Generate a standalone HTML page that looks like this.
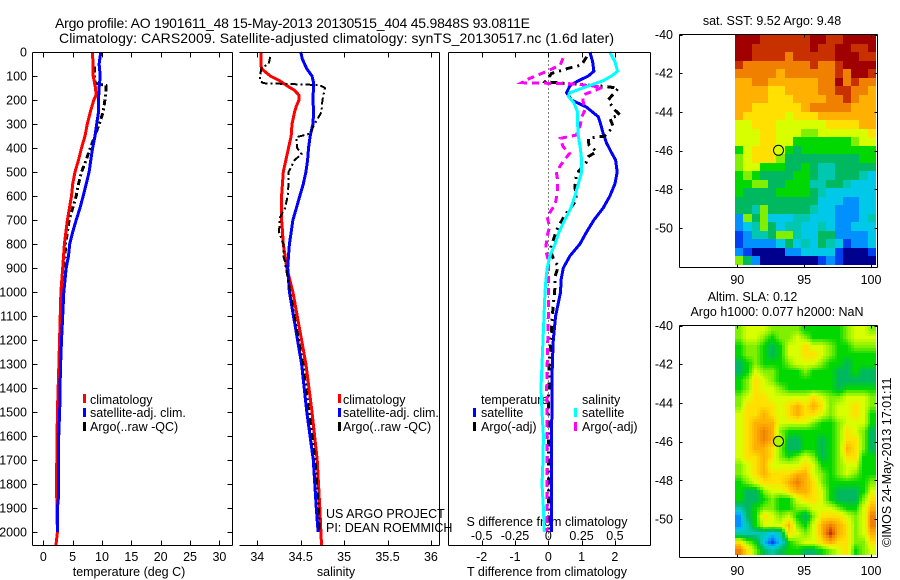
<!DOCTYPE html>
<html>
<head>
<meta charset="utf-8">
<style>
html,body{margin:0;padding:0;background:#fff;width:900px;height:580px;overflow:hidden}
svg{display:block}
text{font-family:"Liberation Sans",sans-serif;font-size:12.5px;fill:#000}
.t{font-size:14px}
.line{fill:none;shape-rendering:crispEdges}
</style>
</head>
<body>
<svg id="fig" width="900" height="580" viewBox="0 0 900 580" xmlns="http://www.w3.org/2000/svg">
<text class="t" x="55" y="28" textLength="475" lengthAdjust="spacing">Argo profile: AO 1901611_48 15-May-2013 20130515_404 45.9848S 93.0811E</text>
<text class="t" x="59" y="43" textLength="555" lengthAdjust="spacing">Climatology: CARS2009. Satellite-adjusted climatology: synTS_20130517.nc (1.6d later)</text>
<text x="129" y="576" text-anchor="middle">temperature (deg C)</text>
<text x="336" y="576" text-anchor="middle">salinity</text>
<text x="547" y="576" text-anchor="middle">T difference from climatology</text>
<text x="547" y="526" text-anchor="middle">S difference from climatology</text>
<text x="772" y="25" text-anchor="middle">sat. SST: 9.52 Argo: 9.48</text>
<text x="752.5" y="301" text-anchor="middle">Altim. SLA: 0.12</text>
<text x="777" y="316" text-anchor="middle">Argo h1000: 0.077 h2000: NaN</text>
<text x="326" y="518">US ARGO PROJECT</text>
<text x="326" y="532">PI: DEAN ROEMMICH</text>
<text transform="translate(891,547) rotate(-90)">©IMOS 24-May-2013 17:01:11</text>

<g id="legends">
<rect x="83" y="394" width="3" height="9" fill="#f00"/>
<text x="90" y="404">climatology</text>
<rect x="83" y="408" width="3" height="9" fill="#00f"/>
<text x="90" y="417">satellite-adj. clim.</text>
<rect x="83" y="422" width="3" height="9" fill="#000"/>
<text x="90" y="431">Argo(..raw -QC)</text>
<rect x="338" y="394" width="3" height="9" fill="#f00"/>
<text x="343" y="404">climatology</text>
<rect x="338" y="408" width="3" height="9" fill="#00f"/>
<text x="343" y="417">satellite-adj. clim.</text>
<rect x="338" y="422" width="3" height="9" fill="#000"/>
<text x="343" y="431">Argo(..raw -QC)</text>
<text x="481" y="404">temperature</text>
<rect x="473" y="408" width="3" height="9" fill="#00f"/>
<text x="481" y="417">satellite</text>
<rect x="473" y="422" width="3" height="9" fill="#000"/>
<text x="481" y="431">Argo(-adj)</text>
<text x="582" y="404">salinity</text>
<rect x="574" y="408" width="3" height="9" fill="#0ff"/>
<text x="582" y="417">satellite</text>
<rect x="574" y="422" width="3" height="9" fill="#f0f"/>
<text x="582" y="431">Argo(-adj)</text>
</g>
</svg>
<script>
// ---- tick data ----
const depthTicks = [0,100,200,300,400,500,600,700,800,900,1000,1100,1200,1300,1400,1500,1600,1700,1800,1900,2000];
const tempTicks = [0,5,10,15,20,25,30];
const salTicks = [34,34.5,35,35.5,36];
const salTickLabels = ['34','34.5','35','35.5','36'];
const dTTicks = [-2,-1,0,1,2];
const dSTicks = [-0.5,-0.25,0,0.25,0.5];
const dSTickLabels = ['-0.5','-0.25','0','0.25','0.5'];
const latTicks = [-40,-42,-44,-46,-48,-50];
const lonTicks = [90,95,100];

// ---- temperature panel ----
const tClimDepth = [0,100,150,180,200,250,300,350,400,450,500,550,600,700,800,900,1000,1300,1500,1800,2000,2054];
const tClimValue = [8.4,8.5,8.9,9.0,8.6,8.0,7.5,7.1,6.5,6.0,5.4,5.0,4.8,4.1,3.6,3.3,3.0,2.65,2.4,2.25,2.4,2.16];
const tSatDepth = [0,50,100,150,200,250,300,350,400,450,500,550,600,650,700,750,800,850,900,1000,1100,1200,1300,1400,1500,1600,1850,1900,2000];
const tSatValue = [9.8,9.5,9.7,9.5,9.4,9.4,9.1,8.8,8.4,8.1,7.8,7.3,6.8,6.25,5.6,5.0,4.5,4.3,3.9,3.5,3.3,3.1,2.95,2.85,2.8,2.6,2.6,2.4,2.4];
const tArgoDepth = [60,100,130,140,150,200,250,300,350,400,450,500,550,600,650,700,750,800,850,900,1000,1300,1550,1850];
const tArgoValue = [8.7,8.7,8.8,10.7,10.7,10.5,10.2,9.5,8.8,8.0,7.3,6.5,6.0,5.6,5.0,4.4,4.1,3.8,3.7,3.4,3.2,2.9,2.7,2.3];

// ---- salinity panel ----
const sClimDepth = [0,50,70,100,120,140,160,180,200,225,250,300,350,400,450,500,600,700,750,800,850,900,1000,1300,1500,1700,1900,2054];
const sClimValue = [34.04,34.04,34.05,34.15,34.26,34.34,34.43,34.48,34.48,34.45,34.43,34.40,34.39,34.36,34.33,34.30,34.28,34.28,34.29,34.30,34.32,34.34,34.41,34.56,34.63,34.69,34.72,34.74];
const sSatDepth = [0,30,70,100,130,200,250,300,350,400,450,500,550,600,650,700,750,800,850,900,1000,1300,1500,1700,1900,2000];
const sSatValue = [34.50,34.52,34.57,34.63,34.65,34.64,34.65,34.64,34.61,34.59,34.58,34.56,34.53,34.49,34.45,34.41,34.39,34.37,34.36,34.35,34.37,34.51,34.57,34.645,34.68,34.70];
const sArgoDepth = [20,50,65,100,120,130,135,138,150,200,250,300,340,355,400,425,450,500,550,600,650,690,750,800,850,875,900,1000,1300,1500,1700,1900,2000];
const sArgoValue = [34.15,34.13,34.05,34.03,34.03,34.07,34.49,34.72,34.78,34.75,34.74,34.66,34.61,34.45,34.46,34.51,34.43,34.36,34.36,34.35,34.32,34.26,34.25,34.30,34.30,34.32,34.33,34.38,34.53,34.60,34.67,34.71,34.72];

// ---- difference panel ----
const dtSatDepth = [0,40,80,100,120,140,170,200,230,270,300,340,380,420,450,500,550,600,650,700,750,800,850,900,950,1000,1100,1200,1300,1600,2000];
const dtSatValue = [1.25,1.33,1.37,1.2,0.9,0.65,0.55,0.7,1.15,1.5,1.57,1.65,1.75,1.9,2.02,2.07,2.0,1.85,1.65,1.37,1.15,0.95,0.65,0.45,0.38,0.37,0.22,0.15,0.12,0.1,0.1];
const dsSatDepth = [0,40,80,100,120,140,160,170,185,210,250,300,350,400,450,500,550,600,650,700,750,800,850,900,950,1000,1200,1400,1500,1600,1700,1800,1900,2000];
const dsSatValue = [0.46,0.5,0.52,0.475,0.41,0.31,0.21,0.16,0.15,0.19,0.22,0.22,0.225,0.24,0.25,0.25,0.225,0.2,0.17,0.125,0.08,0.05,0.012,-0.008,-0.018,-0.025,-0.04,-0.055,-0.047,-0.037,-0.04,-0.047,-0.037,-0.03];
const dtArgoDepth = [20,54,68,89,124,144,151,200,235,262,276,311,350,360,387,415,436,457,508,561,617,679,742,825,860,894,936,978,1100,1300,1500,1800,2000];
const dtArgoValue = [1.15,1.0,0.6,0.1,-0.1,1.75,2.1,1.8,1.95,2.15,1.85,1.95,1.7,1.2,1.22,1.45,1.2,1.15,0.85,0.8,0.85,0.5,0.25,0.05,0.15,0.3,0.2,0.2,0.12,0.03,0,0,0];
const dsArgoDepth = [26,54,78,110,128,133,147,179,200,242,272,304,346,360,394,422,457,499,533,582,637,686,728,769,825,867,936,1100,1400,1500,2000];
const dsArgoValue = [0.11,0.09,0,-0.14,-0.2,0.2,0.41,0.26,0.26,0.275,0.25,0.24,0.21,0.09,0.11,0.16,0.11,0.06,0.07,0.07,0.05,-0.01,0.01,-0.01,-0.02,0,0,0,-0.012,-0.01,-0.01];

// ---- maps: colour level per cell, rows north to south ----
const mapPalette = ['#00008f','#0040f0','#0090ff','#00c8e8','#00c8b0','#00b860','#00d800','#80f000','#d8ff00','#ffe000','#ffb000','#f08000','#c83000','#a00000'];
const sstRow00 = [13,13,13,12,12,12,12,12,12,13,13,12,12,13,13,13,13];
const sstRow01 = [13,13,12,12,12,12,12,12,12,13,12,12,13,13,12,12,13];
const sstRow02 = [13,13,12,12,12,12,11,12,12,12,12,12,13,13,13,12,12];
const sstRow03 = [12,11,11,11,11,11,11,11,11,12,11,11,12,13,13,13,13];
const sstRow04 = [11,11,11,11,11,10,11,11,11,11,11,11,12,11,13,13,12];
const sstRow05 = [10,10,11,11,10,10,10,10,10,10,11,11,13,11,12,11,11];
const sstRow06 = [10,10,10,10,9,9,10,10,10,10,11,11,12,12,11,11,10];
const sstRow07 = [10,10,10,10,9,9,9,10,10,10,10,11,11,12,11,10,10];
const sstRow08 = [10,10,9,9,9,9,9,9,10,11,11,11,11,11,10,10,10];
const sstRow09 = [10,9,9,9,9,9,8,9,9,9,10,10,10,10,10,10,10];
const sstRow10 = [8,8,9,9,9,8,8,8,8,8,8,9,9,9,9,10,10];
const sstRow11 = [8,8,8,9,9,8,8,8,7,7,8,8,8,8,8,8,9];
const sstRow12 = [8,8,8,9,9,8,8,6,6,6,6,6,6,6,7,8,8];
const sstRow13 = [6,8,9,9,9,8,6,5,6,6,6,6,6,6,6,6,6];
const sstRow14 = [7,8,9,9,9,7,5,5,5,5,5,5,5,5,5,6,6];
const sstRow15 = [7,8,8,6,6,6,5,5,6,5,4,4,5,5,5,5,5];
const sstRow16 = [6,7,6,5,5,5,5,6,6,5,4,4,5,5,5,4,3];
const sstRow17 = [6,6,7,7,5,5,6,6,6,4,4,5,5,4,3,3,3];
const sstRow18 = [6,5,5,5,5,6,6,6,6,5,4,3,3,3,3,3,3];
const sstRow19 = [5,5,5,5,5,5,5,5,5,5,3,3,3,2,2,3,3];
const sstRow20 = [5,5,4,7,5,5,5,5,5,4,3,3,2,2,2,3,3];
const sstRow21 = [2,7,5,7,3,3,3,4,4,3,3,3,2,2,2,3,4];
const sstRow22 = [2,3,4,7,5,3,4,4,3,3,4,3,2,2,3,3,3];
const sstRow23 = [1,2,4,4,5,7,7,4,3,3,5,5,2,2,2,2,3];
const sstRow24 = [1,2,2,2,2,3,5,3,4,3,5,4,3,1,2,2,3];
const sstRow25 = [2,1,0,0,0,0,2,2,3,3,3,3,1,0,0,0,1];
const sstRow26 = [7,5,2,0,0,0,0,0,0,0,1,2,1,0,0,0,0];
const sstRows = [sstRow00,sstRow01,sstRow02,sstRow03,sstRow04,sstRow05,sstRow06,sstRow07,sstRow08,sstRow09,sstRow10,sstRow11,sstRow12,sstRow13,sstRow14,sstRow15,sstRow16,sstRow17,sstRow18,sstRow19,sstRow20,sstRow21,sstRow22,sstRow23,sstRow24,sstRow25,sstRow26];
const slaRow00 = [7,8,8,8,7,7,7,7,6,6,6,6,6,7,8,8,7];
const slaRow01 = [7,8,8,7,6,7,7,8,7,6,6,6,6,7,8,8,8];
const slaRow02 = [6,7,7,6,5,6,8,8,9,8,8,7,6,6,7,7,7];
const slaRow03 = [6,7,7,6,5,6,8,8,9,9,8,7,6,6,6,6,6];
const slaRow04 = [5,6,7,6,6,6,7,8,8,8,7,6,6,5,6,6,6];
const slaRow05 = [5,6,8,7,7,6,6,6,7,6,6,6,5,5,6,5,5];
const slaRow06 = [6,7,9,8,7,6,6,6,6,6,6,6,5,5,5,5,5];
const slaRow07 = [6,7,9,8,8,7,6,6,6,6,6,6,5,6,6,6,6];
const slaRow08 = [7,8,9,9,8,8,8,8,8,9,8,7,7,8,8,8,7];
const slaRow09 = [7,9,9,9,9,8,9,10,9,10,9,7,8,8,9,8,7];
const slaRow10 = [8,9,9,10,9,8,9,10,9,9,8,7,8,8,9,8,6];
const slaRow11 = [8,9,10,10,10,8,8,8,8,7,6,6,7,8,8,8,6];
const slaRow12 = [8,9,10,11,10,7,6,6,6,6,6,6,7,9,8,7,5];
const slaRow13 = [8,9,10,11,10,8,5,5,6,6,5,6,7,9,9,7,5];
const slaRow14 = [8,9,10,10,9,7,5,5,6,6,5,6,7,10,9,7,5];
const slaRow15 = [8,9,9,10,9,7,6,7,8,7,5,6,7,9,9,6,6];
const slaRow16 = [7,8,9,10,8,8,8,8,9,8,6,6,7,8,8,6,6];
const slaRow17 = [7,8,9,10,9,9,9,10,10,8,7,6,7,8,7,6,6];
const slaRow18 = [6,7,8,9,9,9,10,11,10,9,7,6,6,6,6,6,7];
const slaRow19 = [6,5,5,7,8,8,9,10,10,9,8,6,5,5,5,6,8];
const slaRow20 = [6,5,5,6,7,6,6,8,9,9,8,6,5,5,5,7,9];
const slaRow21 = [4,5,6,7,7,6,6,7,7,8,8,8,7,6,6,8,10];
const slaRow22 = [2,5,6,9,8,7,8,6,5,7,9,9,9,8,7,8,11];
const slaRow23 = [2,4,6,8,8,8,10,7,6,8,10,11,10,9,7,8,11];
const slaRow24 = [4,4,4,4,3,4,9,8,7,8,10,12,10,9,7,8,10];
const slaRow25 = [9,7,6,3,1,3,6,7,8,8,9,10,9,9,7,7,9];
const slaRow26 = [11,9,7,5,4,5,6,6,5,5,6,7,8,9,6,7,8];
const slaRows = [slaRow00,slaRow01,slaRow02,slaRow03,slaRow04,slaRow05,slaRow06,slaRow07,slaRow08,slaRow09,slaRow10,slaRow11,slaRow12,slaRow13,slaRow14,slaRow15,slaRow16,slaRow17,slaRow18,slaRow19,slaRow20,slaRow21,slaRow22,slaRow23,slaRow24,slaRow25,slaRow26];
const floatLon = 93.0811;
const floatLat = -45.9848;
const sstAtFloat = 8;
const slaAtFloat = 7.5;

// ---- drawing ----
const NS = 'http://www.w3.org/2000/svg';
const fig = document.getElementById('fig');
function make(tag, name, attrs) {
  const el = document.createElementNS(NS, tag);
  
  
  for (const k in attrs) el.setAttribute(k, attrs[k]);
  fig.appendChild(el);
  return el;
}
function seg(name, x1, y1, x2, y2) {
  make('line', name, {x1:x1, y1:y1, x2:x2, y2:y2, stroke:'#000', 'stroke-width':1, 'shape-rendering':'crispEdges'});
}
function label(name, x, y, str, anchor) {
  const t = make('text', name, {x:x, y:y, 'text-anchor':anchor});
  t.textContent = str;
}
const TOP = 52.5, BOTTOM = 545.5;
const yDepth = d => 52 + d * 0.24;
const xTemp = v => 43.3 + v * 5.87;
const xSal = v => 257.3 + (v - 34) * 86.8;
const xDT = v => 548.3 + v * 33.3;
const xDS = v => 548.3 + v * 133.2;

function curve(name, depths, vals, xf, color, width, dash) {
  const pts = depths.map((d, i) => xf(vals[i]).toFixed(1) + ',' + yDepth(d).toFixed(1)).join(' ');
  const attrs = {points:pts, stroke:color, 'stroke-width':width, class:'line'};
  if (dash) attrs['stroke-dasharray'] = dash;
  make('polyline', name, attrs);
}
function profileFrame(prefix, left, right, hasLeft) {
  seg(prefix + '-top-axis', left, TOP, right, TOP);
  seg(prefix + '-bottom-axis', left, BOTTOM, right, BOTTOM);
  seg(prefix + '-right-axis', right, TOP, right, BOTTOM);
  if (hasLeft) seg(prefix + '-left-axis', left, TOP, left, BOTTOM);
}
function xTicks(prefix, ticks, xf, labels, yText) {
  ticks.forEach((t, i) => {
    const x = Math.round(xf(t)) + 0.5;
    seg(prefix + '-tick-top', x, TOP, x, TOP + 5);
    seg(prefix + '-tick-bottom', x, BOTTOM - 5, x, BOTTOM);
    label(prefix + '-tick-label', xf(t), yText, labels[i], 'middle');
  });
}
// curves first, frames on top
curve('temperature-argo-line', tArgoDepth, tArgoValue, xTemp, '#000', 3, '6 3 2 3');
curve('temperature-climatology-line', tClimDepth, tClimValue, xTemp, '#f00', 3);
curve('temperature-satellite-line', tSatDepth, tSatValue, xTemp, '#00f', 3);
curve('salinity-climatology-line', sClimDepth, sClimValue, xSal, '#f00', 3);
curve('salinity-satellite-line', sSatDepth, sSatValue, xSal, '#00f', 3);
curve('salinity-argo-line', sArgoDepth, sArgoValue, xSal, '#000', 2, '7 3 2 3');
make('line', 'zero-reference-line', {x1:548.5, y1:TOP, x2:548.5, y2:BOTTOM, stroke:'#000', 'stroke-width':1, 'stroke-dasharray':'1 3', 'shape-rendering':'crispEdges'});
curve('dt-satellite-line', dtSatDepth, dtSatValue, xDT, '#00f', 3);
curve('dt-argo-line', dtArgoDepth, dtArgoValue, xDT, '#000', 3, '7 5 2 5');
curve('ds-argo-line', dsArgoDepth, dsArgoValue, xDS, '#f0f', 3, '7 5');
curve('ds-satellite-line', dsSatDepth, dsSatValue, xDS, '#0ff', 3);

profileFrame('temperature', 32.5, 232.5, true);
profileFrame('salinity', 239.5, 439.5, false);
profileFrame('difference', 448.5, 650.5, true);
depthTicks.forEach(d => {
  const y = Math.round(yDepth(d)) + 0.5;
  seg('depth-tick-left', 32.5, y, 37.5, y);
  seg('depth-tick-right', 227.5, y, 232.5, y);
  label('depth-tick-label', 27, yDepth(d) + 4.5, String(d), 'end');
});
xTicks('temperature', tempTicks, xTemp, tempTicks.map(String), 561);
xTicks('salinity', salTicks, xSal, salTickLabels, 561);
xTicks('dt', dTTicks, xDT, dTTicks.map(String), 561);
dSTicks.forEach((t, i) => {
  label('ds-tick-label', xDS(t), 540, dSTickLabels[i], 'middle');
});

// maps
const MAP_LEFT = 679.5, MAP_RIGHT = 877.5, IMG_LEFT = 735, IMG_W = 141;
const xLon = v => 737.3 + (v - 90) * 13.37;
function paletteColor(level) {
  const lo = Math.max(0, Math.min(mapPalette.length - 1, Math.floor(level)));
  const hi = Math.min(mapPalette.length - 1, lo + 1);
  const f = level - lo;
  const ch = (hex, i) => parseInt(hex.substr(1 + i * 2, 2), 16);
  const mix = i => Math.round(ch(mapPalette[lo], i) * (1 - f) + ch(mapPalette[hi], i) * f);
  return 'rgb(' + mix(0) + ',' + mix(1) + ',' + mix(2) + ')';
}
function levelAt(rows, u, v) {
  const nR = rows.length, nC = rows[0].length;
  const fc = Math.max(0, Math.min(nC - 1.001, u * nC - 0.5));
  const fr = Math.max(0, Math.min(nR - 1.001, v * nR - 0.5));
  const c = Math.floor(fc), r = Math.floor(fr), a = fc - c, b = fr - r;
  return rows[r][c] * (1 - a) * (1 - b) + rows[r][c + 1] * a * (1 - b) + rows[r + 1][c] * (1 - a) * b + rows[r + 1][c + 1] * a * b;
}
function drawMap(prefix, rows, top, bottom, imgTop, imgH, lonTextY, floatLevel, sub) {
  const yLat = v => top + 0.5 + (-40 - v) * 19.35;
  const nR = rows.length * sub, nC = rows[0].length * sub;
  for (let r = 0; r < nR; r++) {
    for (let c = 0; c < nC; c++) {
      const x0 = Math.round(IMG_LEFT + c * IMG_W / nC);
      const x1 = Math.round(IMG_LEFT + (c + 1) * IMG_W / nC);
      const y0 = Math.round(imgTop + r * imgH / nR);
      const y1 = Math.round(imgTop + (r + 1) * imgH / nR);
      const lvl = sub > 1 ? levelAt(rows, (c + 0.5) / nC, (r + 0.5) / nR) : rows[r][c];
      make('rect', prefix + '-cell', {x:x0, y:y0, width:x1 - x0, height:y1 - y0, fill:paletteColor(lvl), 'shape-rendering':'crispEdges'});
    }
  }
  seg(prefix + '-top-axis', MAP_LEFT, top + 0.5, MAP_RIGHT, top + 0.5);
  seg(prefix + '-bottom-axis', MAP_LEFT, bottom + 0.5, MAP_RIGHT, bottom + 0.5);
  seg(prefix + '-left-axis', MAP_LEFT, top + 0.5, MAP_LEFT, bottom + 0.5);
  seg(prefix + '-right-axis', MAP_RIGHT, top + 0.5, MAP_RIGHT, bottom + 0.5);
  latTicks.forEach(v => {
    const y = Math.round(yLat(v)) + 0.5;
    seg(prefix + '-lat-tick-left', MAP_LEFT, y, MAP_LEFT + 3, y);
    seg(prefix + '-lat-tick-right', MAP_RIGHT - 3, y, MAP_RIGHT, y);
    label(prefix + '-lat-label', 673, yLat(v) + 4.5, String(v), 'end');
  });
  lonTicks.forEach(v => {
    const x = Math.round(xLon(v)) + 0.5;
    seg(prefix + '-lon-tick-top', x, top + 0.5, x, top + 3.5);
    seg(prefix + '-lon-tick-bottom', x, bottom - 2.5, x, bottom + 0.5);
    label(prefix + '-lon-label', xLon(v), lonTextY, String(v), 'middle');
  });
  make('circle', prefix + '-float-marker', {cx:xLon(floatLon), cy:yLat(floatLat), r:5, fill:paletteColor(floatLevel), stroke:'#000', 'stroke-width':1});
}
drawMap('sst-map', sstRows, 34, 267, 35, 230, 284, sstAtFloat, 1);
drawMap('sla-map', slaRows, 325, 557, 325, 230, 575, slaAtFloat, 3);
</script>
</body>
</html>
